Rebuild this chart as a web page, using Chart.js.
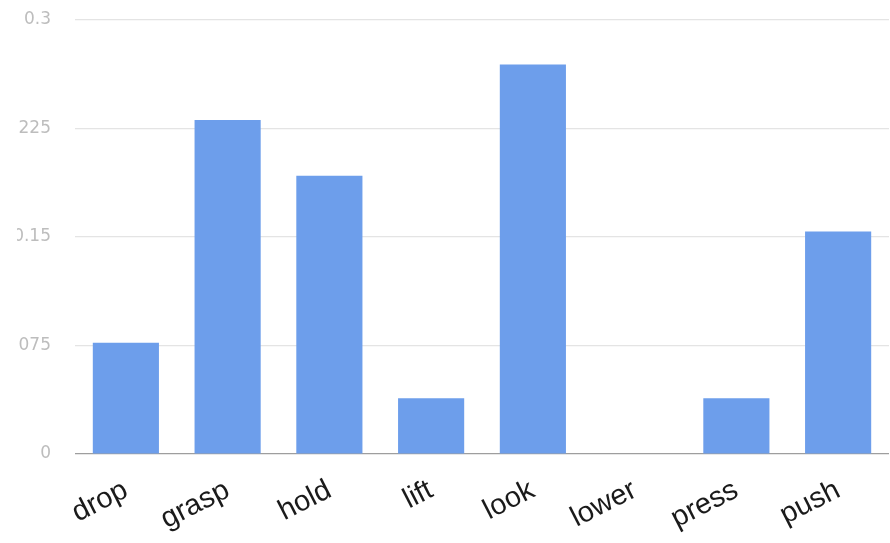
<!DOCTYPE html>
<html>
<head>
<meta charset="utf-8">
<script src="https://cdn.jsdelivr.net/npm/chart.js@4.4.1/dist/chart.umd.min.js"></script>
<style>
    html, body { margin: 0; padding: 0; background: #fff; }
    #wrap { width: 890px; height: 543px; }
    /* left edge of the tick labels is cut off */
    #actionChart { clip-path: inset(0 0 0 17px); }
</style>
</head>
<body>
<div id="wrap"><canvas id="actionChart" width="890" height="543"></canvas></div>
<script>
const ACTIONS = ['drop', 'grasp', 'hold', 'lift', 'look', 'lower', 'press', 'push'];
const SHARES = [0.0769, 0.2308, 0.1923, 0.0385, 0.2692, 0, 0.0385, 0.1538];
const Y_TICKS = [0, 0.075, 0.15, 0.225, 0.3];

const COLORS = {
    bar: '#6d9eeb',
    grid: '#e4e4e4',
    axis: '#9e9e9e',
    tick: '#bdbdbd',
    label: '#1a1a1a'
};

const ctx = document.getElementById('actionChart').getContext('2d');

new Chart(ctx, {
    type: 'bar',
    data: {
        labels: ACTIONS,
        datasets: [{
            data: SHARES,
            backgroundColor: COLORS.bar,
            borderWidth: 0,
            categoryPercentage: 1,
            barPercentage: 0.65
        }]
    },
    options: {
        responsive: false,
        animation: false,
        layout: { padding: { top: 20, right: 1, left: 0, bottom: 0 } },
        plugins: {
            legend: { display: false },
            tooltip: { enabled: false }
        },
        scales: {
            x: {
                grid: { display: false },
                border: { display: false },
                ticks: {
                    color: COLORS.label,
                    font: { family: 'Liberation Sans, Arial, sans-serif', size: 29 },
                    minRotation: 27,
                    maxRotation: 27,
                    padding: 11
                },
                afterFit: (scale) => { scale.height = 89; }
            },
            y: {
                min: 0,
                max: 0.3,
                border: { display: false },
                grid: {
                    drawTicks: false,
                    color: (c) => c.tick && c.tick.value === 0 ? COLORS.axis : COLORS.grid,
                    lineWidth: 1.2
                },
                afterBuildTicks: (scale) => {
                    scale.ticks = Y_TICKS.map(v => ({ value: v }));
                },
                ticks: {
                    color: COLORS.tick,
                    font: { family: 'DejaVu Sans, sans-serif', size: 17 },
                    padding: 24,
                    callback: (v) => String(v)
                },
                afterFit: (scale) => {
                    scale.width = 75;
                    scale.paddingTop = 0;
                }
            }
        }
    }
});
</script>
</body>
</html>
